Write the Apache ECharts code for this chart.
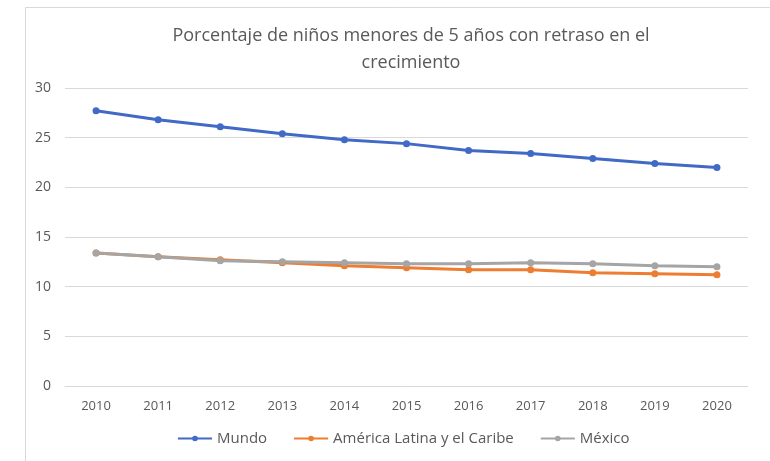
<!DOCTYPE html>
<html>
<head>
<meta charset="utf-8">
<script src="https://cdn.jsdelivr.net/npm/echarts@6/dist/echarts.min.js"></script>
<style>
  html, body { margin: 0; padding: 0; background: #fff; }
  #chart { width: 770px; height: 461px; }
</style>
</head>
<body>
<div id="chart"></div>
<script>
// datos
const years = ['2010', '2011', '2012', '2013', '2014', '2015', '2016', '2017', '2018', '2019', '2020'];
const mundo = [27.7, 26.8, 26.1, 25.4, 24.8, 24.4, 23.7, 23.4, 22.9, 22.4, 22.0];
const americaLatina = [13.4, 13.0, 12.7, 12.4, 12.1, 11.9, 11.7, 11.7, 11.4, 11.3, 11.2];
const mexico = [13.4, 13.0, 12.6, 12.5, 12.4, 12.3, 12.3, 12.4, 12.3, 12.1, 12.0];

const font = '"Open Sans", sans-serif';

function serie(name, data, color) {
  return {
    name: name,
    type: 'line',
    data: data,
    symbol: 'circle',
    symbolSize: 7,
    lineStyle: { width: 3, color: color },
    itemStyle: { color: color },
    emphasis: { disabled: true }
  };
}

const chart = echarts.init(document.getElementById('chart'));
chart.setOption({
  animation: false,
  textStyle: { fontFamily: font },
  graphic: [{
    type: 'rect',
    shape: { x: 25.5, y: 7.5, width: 800, height: 500 },
    style: { fill: 'none', stroke: '#d9d9d9', lineWidth: 1 },
    silent: true
  }],
  title: {
    text: 'Porcentaje de niños menores de 5 años con retraso en el\ncrecimiento',
    left: 406,
    textAlign: 'center',
    top: 17,
    textStyle: { fontFamily: font, fontSize: 18, fontWeight: 'normal', color: '#595959', lineHeight: 27 }
  },
  legend: {
    bottom: 10,
    left: 172,
    itemWidth: 34,
    itemHeight: 7,
    itemGap: 26,
    textStyle: { fontFamily: font, fontSize: 15, color: '#595959' },
    data: ['Mundo', 'América Latina y el Caribe', 'México']
  },
  grid: { left: 65, right: 22, top: 88, bottom: 75 },
  xAxis: {
    type: 'category',
    data: years,
    boundaryGap: true,
    axisLine: { lineStyle: { color: '#d9d9d9' } },
    axisTick: { show: false },
    axisLabel: { color: '#595959', fontSize: 13, margin: 14 }
  },
  yAxis: {
    type: 'value',
    min: 0,
    max: 30,
    interval: 5,
    axisLine: { show: false },
    axisTick: { show: false },
    axisLabel: { color: '#595959', fontSize: 14, margin: 14 },
    splitLine: { lineStyle: { color: '#d9d9d9' } }
  },
  series: [
    serie('Mundo', mundo, '#4169C6'),
    serie('América Latina y el Caribe', americaLatina, '#ED7D31'),
    serie('México', mexico, '#A5A5A5')
  ]
});
</script>
</body>
</html>
